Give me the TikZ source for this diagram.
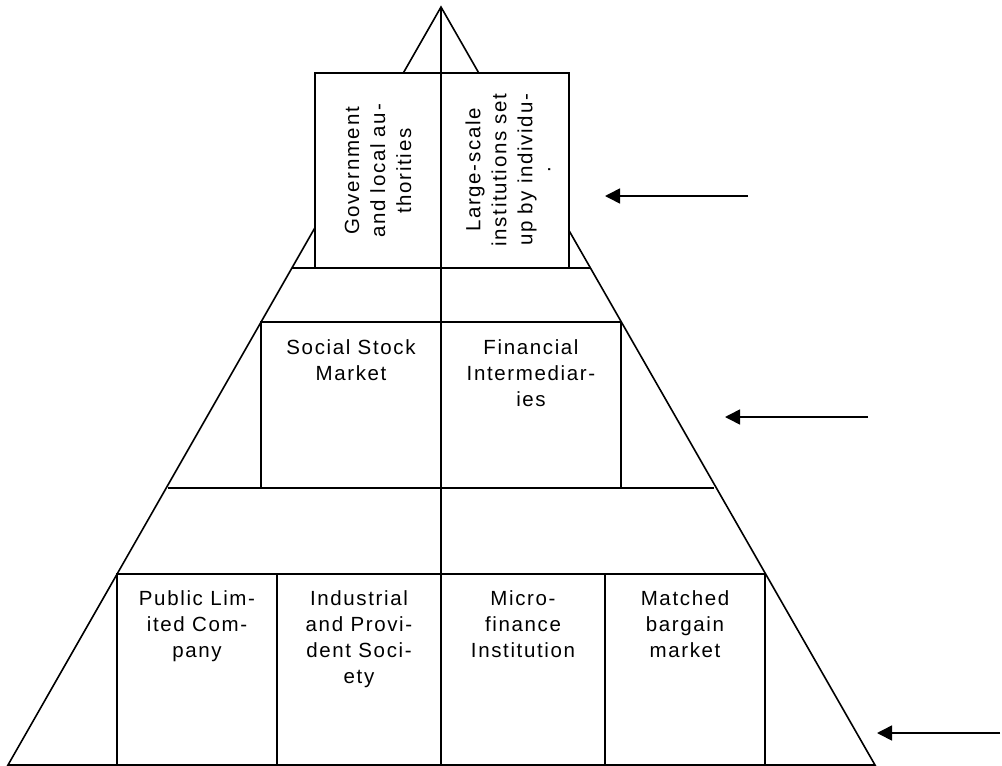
\documentclass[tikz,border=0pt]{standalone}
\usepackage{fontspec}
\setmainfont{Liberation Sans}[LetterSpace=8]
\usetikzlibrary{arrows.meta}
\begin{document}
\begin{tikzpicture}[x=1pt,y=-1pt,line width=1.6pt,
  lbl/.style={inner sep=0pt,align=center,font=\fontsize{20.5}{26}\selectfont,anchor=north,execute at begin node=\strut},
  rot/.style={inner sep=0pt,align=center,font=\fontsize{20.5}{26}\selectfont,rotate=90},
  boxw/.style={draw,fill=white},
  arr/.style={-{Triangle[length=15pt,width=15pt]},line width=1.6pt}]
\useasboundingbox (0,0) rectangle (1002,766);
% pyramid outline
\coordinate (apex) at (441,7);
\coordinate (bl) at (8,765);
\coordinate (br) at (875,765);
\coordinate (bc) at (441,765);
\draw (bl) -- (apex) -- (br) -- cycle;
% level lines
\coordinate (l1a) at (292,268);
\coordinate (l1b) at (591,268);
\coordinate (l2a) at (168,488);
\coordinate (l2b) at (714,488);
\draw (l1a) -- (l1b);
\draw (l2a) -- (l2b);
% boxes
\draw[boxw] (315,73) rectangle (569,268);
\draw (261,322) rectangle (621,488);
\draw (117,574) rectangle (765,765);
\draw (277,574) -- (277,765);
\draw (605,574) -- (605,765);
% centre line
\draw (apex) -- (bc);
% texts
\node[rot] (gov) at (378,171) {Government\\and local au-\\thorities};
\node[rot] (lsi) at (508,170) {Large-scale\\institutions set\\up by individu-\\[-8pt].};
\node[lbl] (ssm) at (351,338.5) {Social Stock\\Market};
\node[lbl] (fi) at (531,338.5) {Financial\\Intermediar-\\ies};
\node[lbl] (plc) at (197,589.5) {Public Lim-\\ited Com-\\pany};
\node[lbl] (ips) at (359,589.5) {Industrial\\and Provi-\\dent Soci-\\ety};
\node[lbl] (mfi) at (523,589.5) {Micro-\\finance\\Institution};
\node[lbl] (mbm) at (685,589.5) {Matched\\bargain\\market};
% arrows
\coordinate (a1s) at (748,196);
\coordinate (a1e) at (605,196);
\coordinate (a2s) at (868,417);
\coordinate (a2e) at (725,417);
\coordinate (a3s) at (1000,733);
\coordinate (a3e) at (877,733);
\draw[arr] (a1s) -- (a1e);
\draw[arr] (a2s) -- (a2e);
\draw[arr] (a3s) -- (a3e);
\end{tikzpicture}
\end{document}
